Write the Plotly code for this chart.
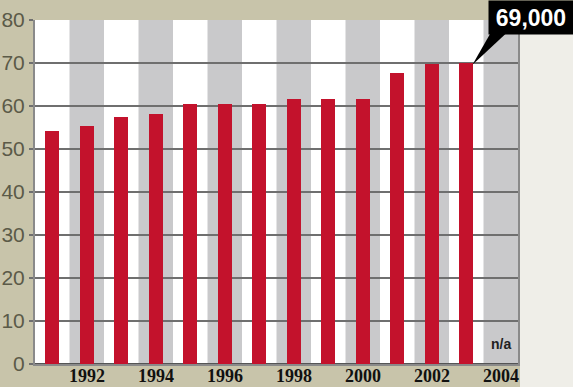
import plotly.graph_objects as go

years = [1991, 1992, 1993, 1994, 1995, 1996, 1997, 1998, 1999, 2000, 2001, 2002, 2003]
values = [54.2, 55.3, 57.4, 58.2, 60.5, 60.5, 60.5, 61.6, 61.6, 61.6, 67.6, 69.7, 69.9]
stripe_years = list(range(1991, 2005))
tick_years = [1992, 1994, 1996, 1998, 2000, 2002, 2004]
y_ticks = [0, 10, 20, 30, 40, 50, 60, 70, 80]
callout_text = "69,000"
na_year = 2004
na_text = "n/a"

W, H = 573, 387
BEIGE = "#c8c4aa"
LIGHT = "#efeee8"
GREY_STRIPE = "#c9c9cb"
GRID = "#6f6f6f"
RED = "#c3122c"

fig = go.Figure()
fig.add_trace(go.Bar(x=years, y=values, width=0.4, marker=dict(color=RED, line=dict(width=0)),
                     hoverinfo="skip"))

shapes = []
# light right strip of the page
shapes.append(dict(type="rect", xref="paper", yref="paper", x0=520 / W, x1=1.0, y0=0, y1=(H - 30) / H,
                   fillcolor=LIGHT, line=dict(width=0), layer="below"))
# alternating column stripes
for i, yr in enumerate(stripe_years):
    shapes.append(dict(type="rect", xref="x", yref="y", x0=yr - 0.5, x1=yr + 0.5, y0=0, y1=80,
                       fillcolor="white" if i % 2 == 0 else GREY_STRIPE, line=dict(width=0), layer="below"))
# callout pointer wedge
last_x, last_v = years[-1], values[-1]
shapes.append(dict(type="path", xref="x", yref="y",
                   path=f"M {last_x + 0.78},78.0 L {last_x + 1.3},78.0 L {last_x + 0.18},{last_v - 0.3} Z",
                   fillcolor="black", line=dict(width=0), layer="above"))

annotations = [
    dict(xref="paper", yref="paper", x=531 / W, y=1.0, xanchor="center", yanchor="top",
         text=f"<b>{callout_text}</b>", showarrow=False, bgcolor="black", width=82, height=31,
         font=dict(family="Liberation Sans, Arial, sans-serif", size=23, color="white")),
    dict(xref="x", yref="y", x=na_year, y=4.6, xanchor="center", yanchor="middle",
         text=f"<b>{na_text}</b>", showarrow=False,
         font=dict(family="Liberation Sans Narrow, Liberation Sans, Arial, sans-serif", size=14, color="#222222")),
]
# year labels under the axis
for t in tick_years:
    annotations.append(dict(xref="x", yref="paper", x=t, y=(H - 376) / H, xanchor="center", yanchor="middle",
                            text=f"<b>{t}</b>", showarrow=False,
                            font=dict(family="Liberation Serif, Times New Roman, serif", size=18, color="#111111")))

fig.update_layout(
    width=W, height=H,
    margin=dict(l=0, r=0, t=0, b=0, autoexpand=False),
    paper_bgcolor=BEIGE, plot_bgcolor="white",
    showlegend=False, bargap=0,
    shapes=shapes, annotations=annotations,
    xaxis=dict(domain=[35 / W, 518 / W], range=[1990.5, 2004.5], tickvals=tick_years,
               showticklabels=False, showgrid=False, zeroline=False,
               showline=True, linecolor="#8a8a8a", linewidth=2, mirror=False, ticks="",
               automargin=False),
    yaxis=dict(domain=[(H - 364) / H, (H - 20) / H], range=[0, 80], tickvals=y_ticks,
               showgrid=True, gridcolor=GRID, gridwidth=2, zeroline=True, zerolinecolor="#555555",
               zerolinewidth=2, showline=True, linecolor="#8a8a8a", linewidth=2, mirror=True,
               ticks="outside", ticklen=4, tickcolor=GRID, tickwidth=2, automargin=False,
               tickfont=dict(family="Liberation Sans Narrow, Arial Narrow, sans-serif", size=21, color="#5b5a48"),
               ticklabelstandoff=0),
)

fig.write_html("out.html")
